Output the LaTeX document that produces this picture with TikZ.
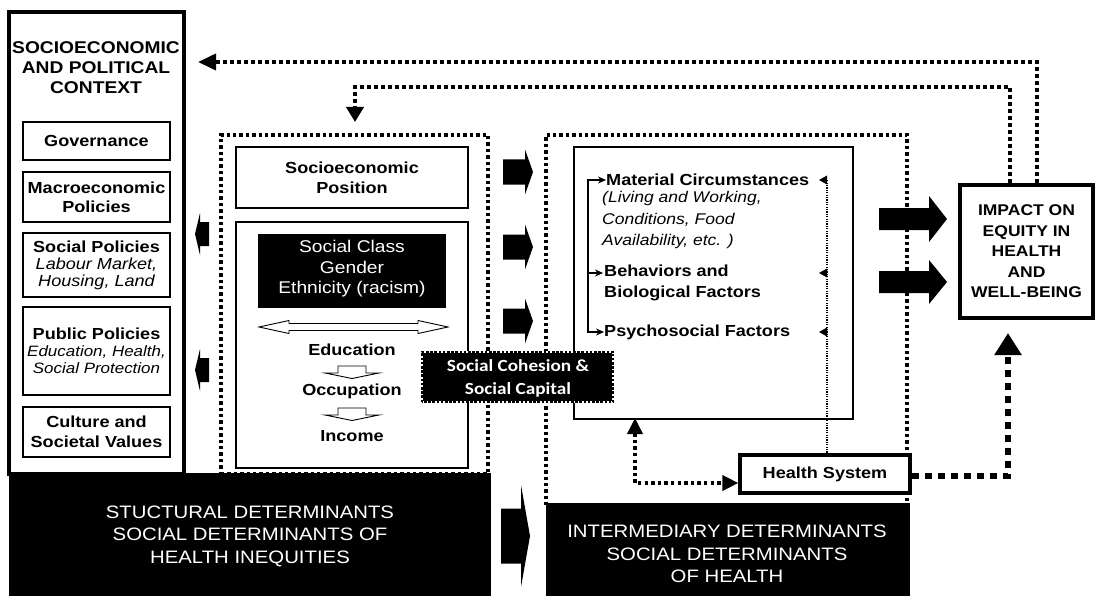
\documentclass[tikz,border=0pt]{standalone}
\usepackage{fontspec}
\setmainfont{Liberation Sans}[FakeStretch=1.13]
\newfontfamily\carlito{Carlito}[FakeStretch=1.13]
\usetikzlibrary{arrows.meta,calc}
\newcommand{\fsz}[2]{\fontsize{#1pt}{#2pt}\selectfont}
\newcommand{\bigarr}[6]{\fill (#1,#4-#5) -- (#2,#4-#5) -- (#2,#4-#6) -- (#3,#4) -- (#2,#4+#6) -- (#2,#4+#5) -- (#1,#4+#5) -- cycle;}
\begin{document}
\begin{tikzpicture}[x=1pt,y=-1pt,
  box/.style={draw, fill=white, inner sep=0pt, align=center},
  dotbox/.style={draw, line width=3.6pt, dash pattern=on 3.4pt off 3pt, inner sep=0pt},
  blk/.style={fill=black, inner sep=0pt},
  wtxt/.style={text=white, align=center, inner sep=0pt},
  bt/.style={font=\fsz{16}{19}\bfseries},
  topdot/.style={line width=3.8pt, dash pattern=on 3.6pt off 3.4pt},
  meddot/.style={line width=3.6pt, dash pattern=on 3.4pt off 3.2pt},
  thindot/.style={line width=1.2pt, dash pattern=on 1.2pt off 1.2pt},
  brk/.style={line width=1.6pt},
]
\useasboundingbox (0,0) rectangle (1099,596);
\fill[white] (0,0) rectangle (1099,596);

% dotted group boxes
\node[dotbox, minimum width=267pt, minimum height=339pt] (structdot) at (354.5,304.5) {};
\node[dotbox, minimum width=361pt, minimum height=370pt] (interdot) at (726.5,320) {};

% context box
\node[box, line width=3.2pt, minimum width=175pt, minimum height=462pt] (ctx) at (96.5,243) {};
\node[align=center, inner sep=0pt, font=\fsz{17}{20}\bfseries] (ctxtitle) at (96,68) {SOCIOECONOMIC\\AND POLITICAL\\CONTEXT};
\node[box, line width=2.6pt, minimum width=147pt, minimum height=38pt, bt] (gov) at (96.5,141) {Governance};
\node[box, line width=2.6pt, minimum width=147pt, minimum height=50pt, bt] (macro) at (96.5,197) {Macroeconomic\\Policies};
\node[box, line width=2.6pt, minimum width=147pt, minimum height=64pt, font=\fsz{16}{17}] (socpol) at (96.5,265) {\bfseries Social Policies\\\itshape Labour Market,\\\itshape Housing, Land};
\node[box, line width=2.6pt, minimum width=147pt, minimum height=88pt, font=\fsz{15.5}{17}] (pubpol) at (96.5,351) {\fsz{16}{17}\bfseries Public Policies\\\fsz{15}{17}\itshape Education, Health,\\\fsz{15}{17}\itshape Social Protection};
\node[box, line width=2.6pt, minimum width=147pt, minimum height=50pt, font=\fsz{16}{20}\bfseries] (culture) at (96.5,432) {Culture and\\Societal Values};

% small left arrows
\bigarr{209}{200}{195}{234}{12}{21}
\bigarr{209}{200}{195}{370}{12}{21}

% structural inner boxes
\node[box, line width=2.2pt, minimum width=232pt, minimum height=61pt, font=\fsz{16}{20}\bfseries] (sep) at (352,177.5) {Socioeconomic\\Position};
\node[box, line width=2.2pt, minimum width=232pt, minimum height=246pt] (inner) at (352,345) {};
\node[blk, minimum width=188pt, minimum height=74pt] (sclass) at (352,271) {};
\node[wtxt, font=\fsz{17}{20.5}] (sclasstext) at (352,269) {Social Class\\Gender\\Ethnicity (racism)};
\filldraw[fill=white, line width=0.9pt] (259,327) -- (289,320.5) -- (289,323.5) -- (418,323.5) -- (418,320.5) -- (448,327) -- (418,333.5) -- (418,330.5) -- (289,330.5) -- (289,333.5) -- cycle;
\node[bt, inner sep=0pt] (edu) at (352,350) {Education};
\node[bt, inner sep=0pt] (occ) at (352,391) {Occupation};
\node[bt, inner sep=0pt] (inc) at (352,436) {Income};
\filldraw[fill=white, line width=0.9pt] (338,366) -- (366,366) -- (366,373) -- (379,373) -- (352,378.5) -- (325,373) -- (338,373) -- cycle;
\filldraw[fill=white, line width=0.9pt] (338,408) -- (366,408) -- (366,415) -- (379,415) -- (352,420.5) -- (325,415) -- (338,415) -- cycle;

% arrows structural -> intermediate
\bigarr{503}{525}{533}{172}{12.5}{22.5}
\bigarr{503}{525}{533}{247}{12.5}{22.5}
\bigarr{503}{525}{533}{321}{12.5}{22.5}
\bigarr{501}{521}{530}{536}{27.5}{51}

% intermediate
\node[box, line width=2.2pt, minimum width=279pt, minimum height=272pt] (mat) at (713.5,283) {};
\node[anchor=west, inner sep=0pt, bt] (matc) at (606,180) {Material Circumstances};
\node[anchor=west, inner sep=0pt, align=left, font=\fsz{15.5}{21.5}\itshape] (matd) at (602,220) {(Living and Working,\\Conditions, Food\\Availability, etc. )};
\node[anchor=west, inner sep=0pt, align=left, font=\fsz{16}{20.5}\bfseries] (beh) at (604,283) {Behaviors and\\Biological Factors};
\node[anchor=west, inner sep=0pt, bt] (psy) at (604,332) {Psychosocial Factors};
\draw[brk] (588,180) -- (588,332);
\draw[brk, -{Stealth[length=8pt,width=7pt]}] (587.2,180) -- (matc.west);
\draw[brk, -{Stealth[length=8pt,width=7pt]}] (588,273) -- (603,273);
\draw[brk, -{Stealth[length=8pt,width=7pt]}] (587.2,332) -- (psy.west);

% social cohesion
\node[blk, minimum width=191pt, minimum height=50pt] (cohes) at (517.5,377) {};
\draw[white, line width=2pt] (cohes.south west) rectangle (cohes.north east);
\draw[black, line width=2pt, dash pattern=on 2.6pt off 1.6pt] (cohes.south west) rectangle (cohes.north east);
\node[wtxt, font=\carlito\fsz{17}{23}\bfseries] (cohestext) at (518,378) {Social Cohesion \&\\Social Capital};

% health system
\node[box, line width=3.2pt, minimum width=170pt, minimum height=38pt, bt] (hs) at (825,474) {Health System};
\draw[thindot] (827,455) -- (827,180);
\foreach \yy in {180,273,332} {\fill (819,\yy) -- (827,\yy-4.5) -- (827,\yy+4.5) -- cycle;}
\draw[meddot, {Triangle[length=16pt,width=15pt]}-{Triangle[length=16pt,width=15pt]}] (635,418) -- (635,483) -- (hs.west |- 0,483);

% impact
\node[box, line width=4pt, minimum width=133pt, minimum height=133pt, font=\fsz{15.5}{20.5}\bfseries] (impact) at (1026.5,251.5) {IMPACT ON\\EQUITY IN\\HEALTH\\AND\\WELL-BEING};
\bigarr{879}{929}{947}{219}{11}{23}
\bigarr{879}{929}{947}{282}{11}{22}
\draw[line width=5.5pt, dash pattern=on 7pt off 6pt, -{Triangle[length=22pt,width=26pt]}] (hs.east |- 0,476) -- (1008,476) -- (1008,333);

% feedback dotted lines
\coordinate (tipA) at (198,62);
\coordinate (tipB) at (355,122);
\draw[topdot, -{Triangle[length=18pt,width=16pt]}] ([xshift=10.5pt]impact.north) -- (1037,62) -- (tipA);
\draw[topdot, -{Triangle[length=15pt,width=17pt]}] ([xshift=-16.5pt]impact.north) -- (1010,87) -- (355,87) -- (tipB);

% black label boxes
\node[blk, minimum width=482pt, minimum height=123pt] (structbox) at (250,534.5) {};
\node[wtxt, font=\fsz{18}{22.5}] (structtext) at (250,536) {STUCTURAL DETERMINANTS\\SOCIAL DETERMINANTS OF\\HEALTH INEQUITIES};
\node[blk, minimum width=364pt, minimum height=93pt] (interbox) at (728,549.5) {};
\node[wtxt, font=\fsz{18}{22.5}] (intertext) at (727,554) {INTERMEDIARY DETERMINANTS\\SOCIAL DETERMINANTS\\OF HEALTH};
\end{tikzpicture}
\end{document}
